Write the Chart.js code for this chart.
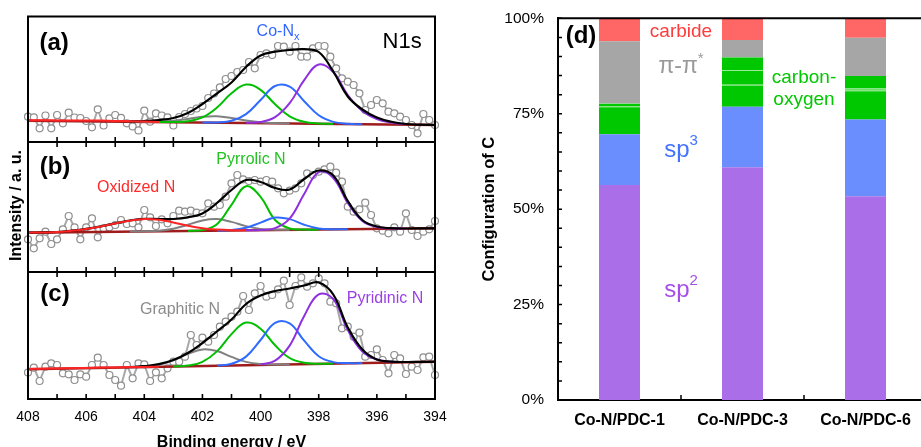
<!DOCTYPE html>
<html>
<head>
<meta charset="utf-8">
<title>N1s fits and carbon configuration</title>
<script src="https://cdn.jsdelivr.net/npm/chart.js@4.4.0/dist/chart.umd.min.js"></script>
<style>
    html, body { margin: 0; padding: 0; background: #fff; width: 921px; height: 447px; overflow: hidden; position: relative; }
    canvas { position: absolute; }
</style>
</head>
<body>
<canvas id="panelA" width="460" height="160" style="left:0;top:0"></canvas>
<canvas id="panelB" width="460" height="155" style="left:0;top:130px"></canvas>
<canvas id="panelC" width="460" height="200" style="left:0;top:260px"></canvas>
<canvas id="configChart" width="475" height="447" style="left:460px;top:0"></canvas>
<script>
const _ = null;

// XPS scan, binding energy (eV)
const scanE = [
    408.0, 407.8, 407.6, 407.4, 407.2, 407.0, 406.8, 406.6, 406.4, 406.2,
    406.0, 405.8, 405.6, 405.4, 405.2, 405.0, 404.8, 404.6, 404.4, 404.2,
    404.0, 403.8, 403.6, 403.4, 403.2, 403.0, 402.8, 402.6, 402.4, 402.2,
    402.0, 401.8, 401.6, 401.4, 401.2, 401.0, 400.8, 400.6, 400.4, 400.2,
    400.0, 399.8, 399.6, 399.4, 399.2, 399.0, 398.8, 398.6, 398.4, 398.2,
    398.0, 397.8, 397.6, 397.4, 397.2, 397.0, 396.8, 396.6, 396.4, 396.2,
    396.0, 395.8, 395.6, 395.4, 395.2, 395.0, 394.8, 394.6, 394.4, 394.2,
    394.0
];

const rawA = [
    25.3, 24.7, 13.7, 26.5, 13.7, 27.0, 18.7, 29.3, 24.5, 24.0,
    21.0, 14.7, 32.7, 16.5, 23.7, 27.0, 24.2, 18.7, 15.6, 11.6,
    31.3, 20.3, 28.7, 26.5, 24.7, 16.5, 25.0, 28.0, 31.0, 33.5,
    36.0, 44.0, 48.5, 54.7, 63.0, 66.0, 70.0, 72.0, 80.0, 73.7,
    87.0, 88.7, 87.0, 96.0, 95.3, 90.3, 96.0, 85.3, 85.3, 93.7,
    96.0, 96.0, 85.3, 73.7, 63.7, 60.3, 57.0, 48.7, 32.0, 37.0,
    42.0, 38.7, 30.3, 28.7, 25.3, 22.0, 17.0, 8.7, 28.0, 22.0,
    17.0
];
const rawB = [
    32.7, 23.7, 33.7, 40.3, 28.0, 32.7, 42.7, 56.0, 44.7, 32.7,
    44.7, 53.7, 34.7, 43.7, 44.7, 47.0, 52.0, 48.0, 48.7, 44.7,
    62.0, 54.7, 46.0, 52.7, 48.7, 56.0, 61.3, 60.3, 61.3, 59.3,
    58.7, 68.7, 65.3, 67.0, 75.3, 88.7, 97.0, 92.7, 91.0, 92.0,
    90.3, 92.0, 90.3, 83.7, 78.7, 81.3, 83.7, 88.7, 98.7, 97.0,
    100.3, 102.7, 105.3, 99.3, 90.3, 65.3, 60.3, 62.7, 69.3, 57.0,
    43.7, 41.3, 38.7, 44.7, 40.3, 58.7, 42.0, 36.0, 40.3, 42.7,
    51.0
];
const rawC = [
    26.5, 31.3, 18.0, 32.3, 35.7, 34.0, 25.7, 24.7, 19.0, 24.7,
    22.3, 34.0, 41.3, 34.0, 24.0, 19.0, 13.3, 34.0, 20.7, 35.7,
    34.7, 18.0, 26.7, 20.7, 30.7, 37.3, 37.3, 42.3, 64.0, 54.0,
    61.3, 57.3, 64.0, 72.3, 77.3, 82.3, 87.3, 103.0, 89.0, 105.7,
    113.0, 102.3, 104.0, 109.7, 118.3, 94.0, 113.0, 121.7, 112.3, 115.7,
    120.7, 115.7, 97.3, 95.7, 70.7, 72.3, 62.3, 66.3, 42.3, 44.0,
    49.7, 39.0, 25.7, 44.0, 40.7, 25.0, 32.3, 29.0, 41.7, 42.3,
    24.0
];

// fitted components, sampled every 0.5 eV
const fitE = [408, 407.5, 407, 406.5, 406, 405.5, 405, 404.5, 404, 403.5,
              403, 402.5, 402, 401.5, 401, 400.5, 400, 399.5, 399, 398.5,
              398, 397.5, 397, 396.5, 396, 395.5, 395, 394.5, 394];
const baseE = [408, 394];

// (a) Co-N/PDC-1
const baseA = [21.3, 17.0];
const redA = [21.7, 21.7, 21.6, 21.6, 21.5, 21.4, 21.1, 20.8, 20.4, 20.0, _, _, _, _, _, _, _, _, _, _, _, _, _, _, _, _, _, _, _];
const grayA = [_, _, _, _, _, _, _, 20.3, 20.2, 20.3, 21.2, 23.1, 25.2, 25.7, 24.0, 21.5, 19.7, 18.9, 18.5, _, _, _, _, _, _, _, _, _, _];
const greenA = [_, _, _, _, _, _, _, _, _, 19.9, 20.0, 20.8, 24.6, 34.4, 48.7, 57.5, 52.1, 37.7, 25.7, 20.2, 18.5, 18.1, _, _, _, _, _, _, _];
const blueA = [_, _, _, _, _, _, _, _, _, _, _, _, 19.5, 19.6, 21.2, 27.9, 42.0, 56.0, 55.4, 40.8, 26.7, 20.1, 18.2, 17.8, _, _, _, _, _];
const purpleA = [_, _, _, _, _, _, _, _, _, _, _, _, _, _, _, 19.2, 20.0, 24.9, 38.8, 61.8, 77.5, 70.0, 47.0, 31.0, 23.0, 19.5, 17.6, _, _];
const envA = [_, _, _, _, _, _, _, 20.6, 21.0, 22.0, 24.0, 29.0, 38.0, 48.5, 59.5, 75.0, 86.5, 90.3, 92.0, 92.8, 90.0, 70.5, 45.5, 32.5, 24.5, 20.2, 18.0, 17.3, 17.0];

// (b) Co-N/PDC-3
const baseB = [39.3, 43.7];
const redB = [39.3, 39.5, 39.9, 41.2, 43.0, 45.5, 48.5, 51.3, 53.0, 52.3, 49.5, 46.2, 43.7, 42.4, 41.8, 41.7, _, _, _, _, _, _, _, _, _, _, _, _, _];
const grayB = [_, _, _, _, _, _, _, 40.5, 40.7, 41.3, 43.3, 47.2, 51.6, 53.0, 50.1, 45.9, 43.1, 42.3, 42.1, _, _, _, _, _, _, _, _, _, _];
const greenB = [_, _, _, _, _, _, _, _, _, _, _, 41.1, 41.9, 47.8, 67.2, 85.8, 75.2, 52.0, 43.5, 42.4, 42.4, _, _, _, _, _, _, _, _];
const blueB = [_, _, _, _, _, _, _, _, _, _, _, _, _, 41.5, 41.9, 44.2, 49.4, 54.4, 52.9, 47.3, 43.6, 42.8, 42.8, _, _, _, _, _, _];
const purpleB = [_, _, _, _, _, _, _, _, _, _, _, _, _, _, _, 41.8, 42.0, 43.9, 53.4, 78.0, 99.8, 94.0, 69.0, 51.0, 45.0, 43.6, 43.4, _, _];
const envB = [39.4, 39.6, 40.0, 41.3, 43.1, 45.6, 48.6, 51.5, 53.1, 53.0, 53.0, 54.7, 58.5, 69.0, 82.0, 92.0, 90.0, 84.0, 82.5, 93.0, 101.5, 96.5, 71.0, 52.0, 45.5, 43.8, 43.5, 43.6, 43.7];

// (c) Co-N/PDC-6
const baseC = [29.7, 37.3];
const redC = [30.0, 30.3, 30.5, 30.8, 31.1, 31.4, 31.6, 31.9, 32.1, 32.3, _, _, _, _, _, _, _, _, _, _, _, _, _, _, _, _, _, _, _];
const grayC = [_, _, _, _, _, _, _, 31.7, 32.4, 34.1, 38.6, 45.1, 49.6, 48.0, 42.1, 37.1, 34.9, 34.5, 34.6, _, _, _, _, _, _, _, _, _, _];
const greenC = [_, _, _, _, _, _, _, _, _, _, 32.5, 33.4, 37.2, 47.6, 64.9, 76.4, 70.3, 53.7, 41.0, 36.2, 35.3, 35.4, _, _, _, _, _, _, _];
const blueC = [_, _, _, _, _, _, _, _, _, _, _, _, _, 33.4, 35.3, 42.4, 59.0, 76.2, 75.6, 58.3, 42.8, 36.9, 35.9, 35.9, _, _, _, _, _];
const purpleC = [_, _, _, _, _, _, _, _, _, _, _, _, _, _, _, _, 34.5, 38.4, 53.4, 83.1, 104.6, 100.0, 69.0, 47.5, 39.5, 37.2, 36.9, _, _];
const envC = [_, _, _, _, _, _, _, 32.0, 32.8, 34.8, 39.0, 46.0, 56.0, 67.5, 79.5, 95.0, 103.5, 108.0, 110.5, 113.5, 116.5, 104.5, 71.5, 49.5, 39.5, 37.3, 37.0, 37.1, 37.3];

// (d) carbon configuration, %
const samples = ['Co-N/PDC-1', 'Co-N/PDC-3', 'Co-N/PDC-6'];
const sp2 = [56.3, 61.0, 53.4];
const sp3 = [13.3, 15.8, 20.1];
const carbonOxygen1 = [7.1, 5.6, 7.4];
const carbonOxygen2 = [1.0, 3.8, 0.5];
const carbonOxygen3 = [0.0, 3.6, 3.5];
const piPi = [16.3, 4.5, 10.0];
const carbide = [6.0, 5.7, 5.1];
const percentTicks = [0, 25, 50, 75, 100];

const FAMILY = '"Liberation Sans", Arial, sans-serif';
Chart.defaults.font.family = FAMILY;
Chart.defaults.color = '#000';

function pts(xs, ys) {
    return xs.map((x, i) => ({ x: x, y: ys[i] })).filter(p => p.y !== null);
}

function fontStr(p) {
    return (p.bold ? 'bold ' : '') + p.size + 'px ' + FAMILY;
}

// draws text runs (for sub/superscripts) centred on cx, cy
function drawRich(ctx, parts, cx, cy, color, rotate) {
    let total = 0;
    const runs = parts.map(p => {
        ctx.font = fontStr(p);
        const w = ctx.measureText(p.t).width;
        total += w;
        return Object.assign({ w: w }, p);
    });
    ctx.save();
    ctx.translate(cx, cy);
    if (rotate) ctx.rotate(rotate);
    ctx.fillStyle = color;
    ctx.textAlign = 'left';
    ctx.textBaseline = 'middle';
    let x = -total / 2;
    runs.forEach(r => {
        ctx.font = fontStr(r);
        ctx.fillText(r.t, x, r.dy || 0);
        x += r.w;
    });
    ctx.restore();
}

function labelPlugin(items) {
    return {
        id: 'textLabels',
        afterDraw(chart) {
            const { ctx, scales: { x, y } } = chart;
            items.forEach(it => {
                const px = it.px !== undefined ? it.px : x.getPixelForValue(it.at[0]);
                drawRich(ctx, it.parts, px, y.getPixelForValue(it.at[1]), it.color || '#000', it.rotate);
            });
        }
    };
}

// box round each spectrum with inward ticks every 1 eV
function panelFrame(topTicks) {
    return {
        id: 'panelFrame',
        afterDatasetsDraw(chart) {
            const { ctx, chartArea: a, scales: { x } } = chart;
            ctx.save();
            ctx.strokeStyle = '#000';
            ctx.lineWidth = 2;
            ctx.strokeRect(a.left, a.top, a.right - a.left, a.bottom - a.top);
            ctx.lineWidth = 1.6;
            ctx.beginPath();
            for (let e = 394; e <= 408; e++) {
                const px = x.getPixelForValue(e);
                ctx.moveTo(px, a.bottom);
                ctx.lineTo(px, a.bottom - 5);
                if (topTicks) {
                    ctx.moveTo(px, a.top);
                    ctx.lineTo(px, a.top + 5);
                }
            }
            ctx.stroke();
            ctx.restore();
        }
    };
}

function fitLine(values, color, order, width) {
    return {
        data: pts(fitE, values),
        borderColor: color,
        borderWidth: width || 2,
        pointRadius: 0,
        tension: 0.4,
        order: order
    };
}

function xpsPanel(id, p) {
    const datasets = [
        {
            data: pts(scanE, p.raw),
            borderColor: '#a8a8a8',
            borderWidth: 2,
            pointRadius: 3.5,
            pointBorderWidth: 1.2,
            pointBorderColor: '#8e8e8e',
            pointBackgroundColor: '#fff',
            tension: 0,
            order: 10,
            clip: 8
        },
        {
            data: pts(baseE, p.base),
            borderColor: '#9e1c1c',
            borderWidth: 2.4,
            pointRadius: 0,
            order: 9
        },
        fitLine(p.gray, '#808080', 8),
        fitLine(p.green, '#00bf00', 7),
        fitLine(p.blue, '#2f6bff', 6),
        fitLine(p.purple, '#8f30e0', 5),
        fitLine(p.env, '#000', 4, 2.2),
        fitLine(p.red, '#ff2424', 3)
    ];

    const xScale = {
        type: 'linear',
        min: 394,
        max: 408,
        reverse: true,
        display: !!p.showX,
        grid: { display: false, drawTicks: false },
        border: { display: false },
        ticks: { stepSize: 2, padding: 10, color: '#000', font: { size: 14 } },
        title: {
            display: !!p.showX,
            text: 'Binding energy / eV',
            color: '#000',
            font: { size: 16, weight: 'bold' },
            padding: { top: 0, bottom: 8 }
        }
    };
    if (p.showX) xScale.afterFit = s => { s.height = 61; };

    return new Chart(document.getElementById(id), {
        type: 'line',
        data: { datasets: datasets },
        options: {
            animation: false,
            responsive: false,
            events: [],
            layout: { padding: p.padding },
            plugins: { legend: { display: false }, tooltip: { enabled: false } },
            scales: {
                x: xScale,
                y: { min: 0, max: p.height, display: false }
            }
        },
        plugins: [panelFrame(p.topTicks), labelPlugin(p.labels)]
    });
}

xpsPanel('panelA', {
    raw: rawA, base: baseA, red: redA, gray: grayA, green: greenA, blue: blueA, purple: purpleA, env: envA,
    height: 125.5, topTicks: false,
    padding: { top: 16.5, bottom: 18, left: 28, right: 25 },
    labels: [
        { at: [407.1, 99], parts: [{ t: '(a)', size: 24, bold: true }] },
        { at: [395.13, 100], parts: [{ t: 'N1s', size: 22 }] },
        { at: [399.4, 110], color: '#3366ff', parts: [{ t: 'Co-N', size: 16 }, { t: 'x', size: 11, dy: 5 }] }
    ]
});

xpsPanel('panelB', {
    raw: rawB, base: baseB, red: redB, gray: grayB, green: greenB, blue: blueB, purple: purpleB, env: envB,
    height: 130, topTicks: true,
    padding: { top: 12, bottom: 13, left: 28, right: 25 },
    labels: [
        { at: [407.07, 104.5], parts: [{ t: '(b)', size: 24, bold: true }] },
        { at: [404.28, 84], color: '#ff2a2a', parts: [{ t: 'Oxidized N', size: 16 }] },
        { at: [400.33, 112], color: '#22c422', parts: [{ t: 'Pyrrolic N', size: 16 }] },
        { px: 17, at: [0, 66.5], rotate: -Math.PI / 2, parts: [{ t: 'Intensity / a. u.', size: 16, bold: true }] }
    ]
});

xpsPanel('panelC', {
    raw: rawC, base: baseC, red: redC, gray: grayC, green: greenC, blue: blueC, purple: purpleC, env: envC,
    height: 127, topTicks: true, showX: true,
    padding: { top: 12, bottom: 0, left: 28, right: 25 },
    labels: [
        { at: [407.07, 105], parts: [{ t: '(c)', size: 24, bold: true }] },
        { at: [402.77, 89], color: '#8c8c8c', parts: [{ t: 'Graphitic N', size: 16 }] },
        { at: [395.72, 100], color: '#9b3fe6', parts: [{ t: 'Pyridinic N', size: 16 }] }
    ]
});

// axis ticks pointing into the plot plus the top frame line
const configFrame = {
    id: 'configFrame',
    afterDraw(chart) {
        const { ctx, chartArea: a, scales: { x, y } } = chart;
        ctx.save();
        ctx.strokeStyle = '#000';
        ctx.lineWidth = 1.5;
        ctx.beginPath();
        for (let v = 0; v <= 100; v += 5) {
            const py = y.getPixelForValue(v);
            ctx.moveTo(a.left, py);
            ctx.lineTo(a.left + 4, py);
        }
        [0.5, 1.5].forEach(c => {
            const px = x.getPixelForValue(c);
            ctx.moveTo(px, a.bottom);
            ctx.lineTo(px, a.bottom - 5);
        });
        ctx.stroke();
        ctx.lineWidth = 2;
        ctx.beginPath();
        ctx.moveTo(a.left - 1, a.top);
        ctx.lineTo(a.right, a.top);
        ctx.stroke();
        ctx.restore();
    }
};

const divider = { top: 0, right: 0, bottom: 1, left: 0 };
const dividerColor = 'rgba(110,225,110,0.7)';

new Chart(document.getElementById('configChart'), {
    type: 'bar',
    data: {
        labels: samples,
        datasets: [
            { label: 'sp2', data: sp2, backgroundColor: '#a96ee8' },
            { label: 'sp3', data: sp3, backgroundColor: '#6b8eff' },
            { label: 'carbon-oxygen', data: carbonOxygen1, backgroundColor: '#00c800' },
            { label: 'carbon-oxygen', data: carbonOxygen2, backgroundColor: '#00c800',
              borderColor: dividerColor, borderWidth: divider, borderSkipped: false },
            { label: 'carbon-oxygen', data: carbonOxygen3, backgroundColor: '#00c800',
              borderColor: dividerColor, borderWidth: divider, borderSkipped: false },
            { label: 'pi-pi*', data: piPi, backgroundColor: '#a6a6a6' },
            { label: 'carbide', data: carbide, backgroundColor: '#ff6666' }
        ]
    },
    options: {
        animation: false,
        responsive: false,
        events: [],
        layout: { padding: { top: 18.3, right: 8, left: 0, bottom: 0 } },
        datasets: { bar: { categoryPercentage: 1, barPercentage: 1 / 3 } },
        plugins: { legend: { display: false }, tooltip: { enabled: false } },
        scales: {
            x: {
                stacked: true,
                grid: { display: false, drawTicks: false },
                border: { display: true, color: '#000', width: 2 },
                ticks: { padding: 11, color: '#000', font: { size: 16, weight: 'bold' } },
                afterFit: s => {
                    s.height = 47;
                    s.paddingLeft = 0;
                    s.paddingRight = 0;
                }
            },
            y: {
                stacked: true,
                min: 0,
                max: 100,
                grid: { display: false, drawTicks: false },
                border: { display: true, color: '#000', width: 2 },
                ticks: {
                    stepSize: 5,
                    autoSkip: false,
                    padding: 14,
                    color: '#000',
                    font: { size: 15.5 },
                    callback: v => percentTicks.includes(v) ? v + '%' : ''
                },
                title: {
                    display: true,
                    text: 'Configuration of C',
                    color: '#000',
                    font: { size: 16.5, weight: 'bold' },
                    padding: { top: 20, bottom: 0 }
                },
                afterFit: s => {
                    s.width = 98;
                    s.paddingTop = 0;
                    s.paddingBottom = 0;
                }
            }
        }
    },
    plugins: [configFrame, labelPlugin([
        { at: [-0.313, 95.3], parts: [{ t: '(d)', size: 24, bold: true }] },
        { at: [0.5, 96.5], color: '#ff3b3b', parts: [{ t: 'carbide', size: 19 }] },
        { at: [0.5, 87.3], color: '#999', parts: [{ t: '\u03c0-\u03c0', size: 23 }, { t: '*', size: 15, dy: -8 }] },
        { at: [1.5, 84.4], color: '#00c800', parts: [{ t: 'carbon-', size: 19 }] },
        { at: [1.5, 78.6], color: '#00c800', parts: [{ t: 'oxygen', size: 19 }] },
        { at: [0.5, 65.5], color: '#4272ff', parts: [{ t: 'sp', size: 24 }, { t: '3', size: 15, dy: -9 }] },
        { at: [0.5, 28.8], color: '#a44ee8', parts: [{ t: 'sp', size: 24 }, { t: '2', size: 15, dy: -9 }] }
    ])]
});
</script>
</body>
</html>
